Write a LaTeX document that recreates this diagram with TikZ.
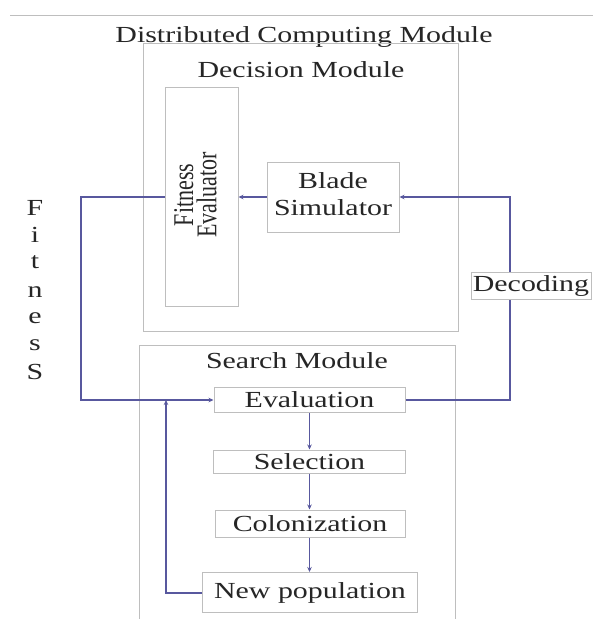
\documentclass[tikz,border=0pt]{standalone}
\usepackage{fontspec}
\setmainfont{Liberation Serif}
\usetikzlibrary{arrows.meta}
\newcommand{\sx}[1]{\scalebox{1.3}[1]{#1}}
\definecolor{boxgray}{HTML}{BEBEBE}
\definecolor{conncol}{HTML}{58589E}
\begin{document}
\begin{tikzpicture}[x=1pt,y=-1pt,
  box/.style={draw=boxgray, line width=1pt, inner sep=0pt},
  txt/.style={font=\fontsize{23}{27}\selectfont, inner sep=0pt, text=black!85},
  conn/.style={draw=conncol, line width=1.3pt},
  tip/.style={-{Stealth[length=5pt,width=4.5pt]}}]
\clip (0,0) rectangle (593,619);
\fill[white] (0,0) rectangle (593,619);
% top rule
\draw[boxgray, line width=1pt] (10,15) -- (593,15);
% title
\node[txt, anchor=base] (title) at (304,42) {\sx{Distributed Computing Module}};
% decision module
\node[box, minimum width=315pt, minimum height=288pt] (dec) at (300.5,187) {};
\node[txt, anchor=base] (declab) at (301,77) {\sx{Decision Module}};
\node[box, minimum width=73pt, minimum height=219pt] (fe) at (201.5,196.5) {};
\node[inner sep=0pt, text=black!85] (fetxt) at (199,195) {\sx{\rotatebox{90}{\fontsize{22}{19}\selectfont\begin{tabular}{@{}c@{}}Fitness\\[-3pt]Evaluator\end{tabular}}}};
\node[box, txt, minimum width=132pt, minimum height=70pt] (bs) at (333,197) {\sx{\begin{tabular}{@{}c@{}}Blade\\Simulator\end{tabular}}};
% search module
\node[box, minimum width=316pt, minimum height=280pt] (sea) at (297,485) {};
\node[txt, anchor=base] (sealab) at (297,368) {\sx{Search Module}};
\node[box, txt, minimum width=191pt, minimum height=25pt] (ev) at (309.5,400) {\sx{Evaluation}};
\node[box, txt, minimum width=192pt, minimum height=23pt] (sel) at (309.5,461.5) {\sx{Selection}};
\node[box, txt, minimum width=190pt, minimum height=27pt] (col) at (310,523.5) {\sx{Colonization}};
\node[box, txt, minimum width=215pt, minimum height=40pt] (np) at (310,592.5) {\sx{New population}};
% coordinates
\coordinate (c1) at (81,197);
\coordinate (c2) at (81,400);
\coordinate (c3) at (510,197);
\coordinate (c4) at (510,400);
\coordinate (c5) at (166,400);
\coordinate (c6) at (166,593);
% connectors
\draw[conn, tip] (bs.west) -- (fe.east |- bs.west);
\draw[conn, tip] (fe.west |- bs.west) -- (c1) -- (c2) -- (ev.west);
\draw[conn, tip] (ev.east) -- (c4) -- (c3) -- (bs.east);
\draw[conn, tip] (np.west |- c6) -- (c6) -- (c5);
\draw[conn, tip] (ev.south) -- (ev.south |- sel.north);
\draw[conn, tip] (sel.south) -- (sel.south |- col.north);
\draw[conn, tip] (sel.south |- col.south) -- (sel.south |- np.north);
% decoding label
\node[box, txt, fill=white, minimum width=120pt, minimum height=27pt] (dcd) at (531,285.5) {\sx{Decoding}};
% Fitness vertical letters
\node[txt, anchor=base] (f1) at (35,215) {\sx{F}};
\node[txt, anchor=base] (f2) at (35,242) {\sx{i}};
\node[txt, anchor=base] (f3) at (35,268) {\sx{t}};
\node[txt, anchor=base] (f4) at (35,297) {\sx{n}};
\node[txt, anchor=base] (f5) at (35,323) {\sx{e}};
\node[txt, anchor=base] (f6) at (35,350) {\sx{s}};
\node[txt, anchor=base] (f7) at (35,379) {\sx{S}};
\end{tikzpicture}
\end{document}
